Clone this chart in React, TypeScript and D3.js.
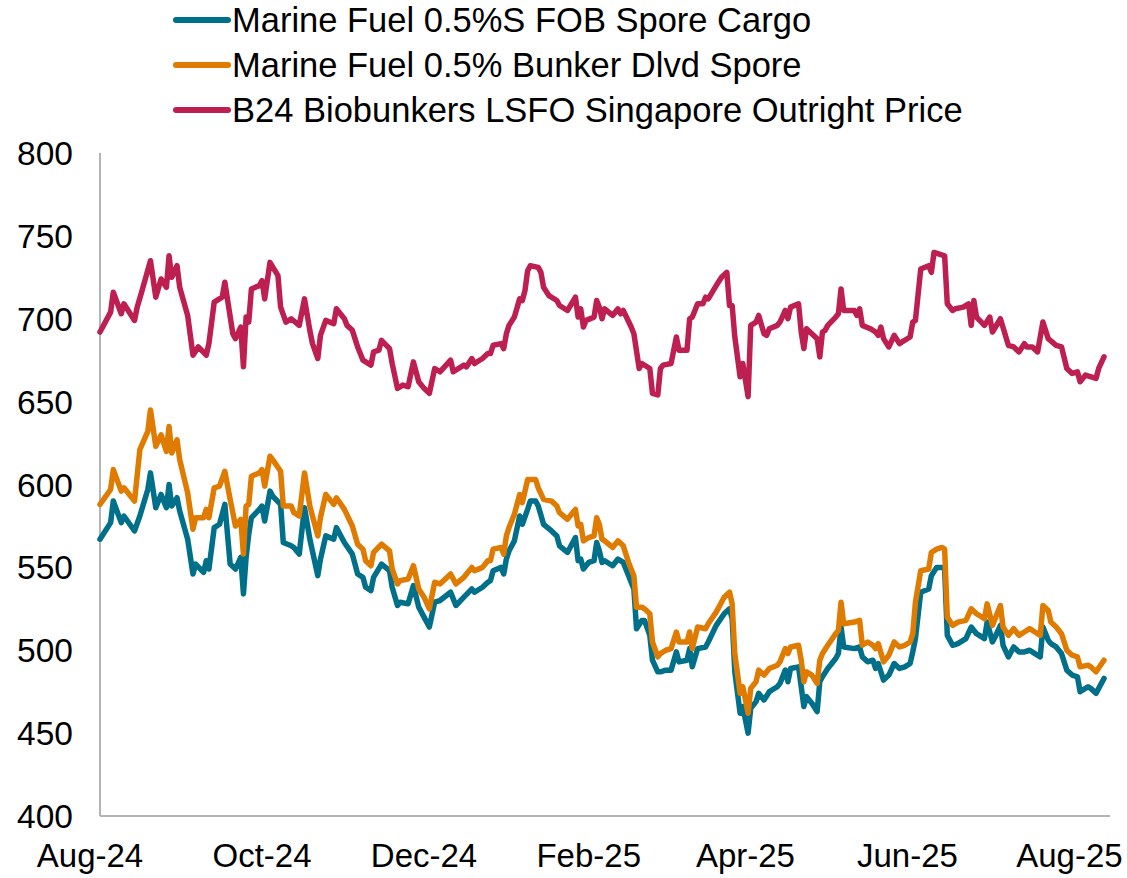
import React from 'react';
import * as d3 from 'd3';

// B24 biobunker price (purple)
const bioDates = [
  '2024-08-01', '2024-08-05', '2024-08-06', '2024-08-09', '2024-08-10', '2024-08-14', '2024-08-15', '2024-08-17',
  '2024-08-20', '2024-08-22', '2024-08-24', '2024-08-26', '2024-08-27', '2024-08-28', '2024-08-30', '2024-08-31',
  '2024-09-03', '2024-09-05', '2024-09-07', '2024-09-10', '2024-09-11', '2024-09-13', '2024-09-16', '2024-09-17',
  '2024-09-20', '2024-09-21', '2024-09-23', '2024-09-24', '2024-09-25', '2024-09-26', '2024-09-27', '2024-09-30',
  '2024-10-01', '2024-10-02', '2024-10-04', '2024-10-07', '2024-10-08', '2024-10-10', '2024-10-12', '2024-10-15',
  '2024-10-17', '2024-10-19', '2024-10-20', '2024-10-22', '2024-10-23', '2024-10-25', '2024-10-28', '2024-10-29',
  '2024-11-01', '2024-11-02', '2024-11-04', '2024-11-06', '2024-11-07', '2024-11-08', '2024-11-11', '2024-11-12',
  '2024-11-14', '2024-11-15', '2024-11-18', '2024-11-19', '2024-11-21', '2024-11-23', '2024-11-25', '2024-11-27',
  '2024-11-29', '2024-12-01', '2024-12-03', '2024-12-05', '2024-12-07', '2024-12-11', '2024-12-12', '2024-12-16',
  '2024-12-17', '2024-12-19', '2024-12-20', '2024-12-23', '2024-12-25', '2024-12-26', '2024-12-27', '2024-12-30',
  '2024-12-31', '2025-01-01', '2025-01-02', '2025-01-04', '2025-01-06', '2025-01-07', '2025-01-08', '2025-01-09',
  '2025-01-10', '2025-01-13', '2025-01-14', '2025-01-15', '2025-01-17', '2025-01-20', '2025-01-21', '2025-01-24',
  '2025-01-27', '2025-01-28', '2025-01-29', '2025-01-30', '2025-01-31', '2025-02-03', '2025-02-04', '2025-02-05',
  '2025-02-06', '2025-02-07', '2025-02-10', '2025-02-12', '2025-02-13', '2025-02-14', '2025-02-17', '2025-02-18',
  '2025-02-20', '2025-02-21', '2025-02-24', '2025-02-25', '2025-02-27', '2025-02-28', '2025-03-01', '2025-03-04',
  '2025-03-06', '2025-03-07', '2025-03-10', '2025-03-11', '2025-03-12', '2025-03-14', '2025-03-16', '2025-03-17',
  '2025-03-18', '2025-03-21', '2025-03-23', '2025-03-25', '2025-03-26', '2025-03-27', '2025-03-28', '2025-03-30',
  '2025-03-31', '2025-04-02', '2025-04-03', '2025-04-05', '2025-04-06', '2025-04-08', '2025-04-09', '2025-04-10',
  '2025-04-13', '2025-04-14', '2025-04-16', '2025-04-17', '2025-04-18', '2025-04-21', '2025-04-22', '2025-04-23',
  '2025-04-24', '2025-04-26', '2025-04-28', '2025-04-29', '2025-04-30', '2025-05-01', '2025-05-02', '2025-05-05',
  '2025-05-06', '2025-05-07', '2025-05-08', '2025-05-12', '2025-05-13', '2025-05-14', '2025-05-15', '2025-05-18',
  '2025-05-20', '2025-05-21', '2025-05-22', '2025-05-23', '2025-05-25', '2025-05-27', '2025-05-29', '2025-05-30',
  '2025-06-02', '2025-06-03', '2025-06-04', '2025-06-06', '2025-06-09', '2025-06-10', '2025-06-11', '2025-06-13',
  '2025-06-15', '2025-06-16', '2025-06-18', '2025-06-19', '2025-06-22', '2025-06-24', '2025-06-25', '2025-06-26',
  '2025-06-27', '2025-06-30', '2025-07-02', '2025-07-03', '2025-07-06', '2025-07-09', '2025-07-11', '2025-07-13',
  '2025-07-15', '2025-07-16', '2025-07-18', '2025-07-20', '2025-07-22', '2025-07-24', '2025-07-27', '2025-07-29',
  '2025-07-31', '2025-08-02', '2025-08-04', '2025-08-05', '2025-08-07', '2025-08-11', '2025-08-12', '2025-08-14',
];
const bioPrices = [
  692, 704, 716, 703, 709, 699, 707, 718,
  735, 713, 724, 719, 738, 725, 732, 719,
  702, 678, 683, 678, 685, 710, 713, 722,
  691, 688, 695, 671, 701, 698, 718, 720,
  723, 712, 734, 726, 707, 698, 700, 696,
  712, 693, 685, 676, 690, 699, 697, 706,
  700, 696, 693, 683, 679, 675, 672, 680,
  681, 687, 682, 673, 658, 660, 659, 674,
  662, 658, 655, 670, 668, 675, 668, 672,
  671, 676, 673, 676, 679, 679, 684, 685,
  682, 691, 696, 701, 712, 711, 717, 729,
  732, 731, 728, 719, 714, 711, 708, 705,
  713, 701, 706, 695, 699, 701, 711, 707,
  700, 706, 702, 706, 703, 705, 695, 691,
  670, 673, 670, 655, 654, 670, 672, 673,
  689, 681, 681, 700, 701, 709, 709, 713,
  712, 720, 725, 728, 708, 708, 689, 665,
  673, 653, 696, 698, 702, 691, 690, 694,
  696, 698, 705, 700, 707, 709, 692, 682,
  694, 691, 688, 677, 692, 693, 696, 701,
  703, 718, 705, 705, 702, 706, 696, 694,
  692, 690, 695, 688, 683, 690, 685, 686,
  689, 698, 699, 730, 732, 728, 740, 739,
  738, 709, 705, 706, 707, 709, 696, 711,
  701, 696, 701, 692, 700, 684, 683, 680,
  685, 683, 683, 680, 698, 688, 684, 683,
  670, 667, 668, 662, 666, 664, 670, 677,
];

// marine fuel cargo (teal) and delivered bunker (orange)
const fuelDates = [
  '2024-08-01', '2024-08-05', '2024-08-06', '2024-08-09', '2024-08-10', '2024-08-14', '2024-08-16', '2024-08-19',
  '2024-08-20', '2024-08-22', '2024-08-24', '2024-08-26', '2024-08-27', '2024-08-28', '2024-08-30', '2024-08-31',
  '2024-09-03', '2024-09-05', '2024-09-06', '2024-09-09', '2024-09-10', '2024-09-11', '2024-09-13', '2024-09-15',
  '2024-09-17', '2024-09-19', '2024-09-21', '2024-09-23', '2024-09-24', '2024-09-25', '2024-09-26', '2024-09-27',
  '2024-09-30', '2024-10-01', '2024-10-02', '2024-10-04', '2024-10-05', '2024-10-08', '2024-10-09', '2024-10-12',
  '2024-10-13', '2024-10-15', '2024-10-17', '2024-10-19', '2024-10-22', '2024-10-23', '2024-10-25', '2024-10-28',
  '2024-10-29', '2024-11-01', '2024-11-04', '2024-11-06', '2024-11-08', '2024-11-09', '2024-11-11', '2024-11-12',
  '2024-11-15', '2024-11-18', '2024-11-19', '2024-11-21', '2024-11-22', '2024-11-25', '2024-11-27', '2024-11-29',
  '2024-12-01', '2024-12-03', '2024-12-05', '2024-12-07', '2024-12-11', '2024-12-13', '2024-12-16', '2024-12-19',
  '2024-12-20', '2024-12-23', '2024-12-25', '2024-12-26', '2024-12-27', '2024-12-30', '2024-12-31', '2025-01-01',
  '2025-01-02', '2025-01-04', '2025-01-06', '2025-01-07', '2025-01-09', '2025-01-10', '2025-01-12', '2025-01-13',
  '2025-01-15', '2025-01-18', '2025-01-20', '2025-01-21', '2025-01-24', '2025-01-27', '2025-01-28', '2025-01-29',
  '2025-01-30', '2025-02-01', '2025-02-03', '2025-02-04', '2025-02-05', '2025-02-06', '2025-02-07', '2025-02-10',
  '2025-02-12', '2025-02-14', '2025-02-16', '2025-02-18', '2025-02-19', '2025-02-21', '2025-02-22', '2025-02-24',
  '2025-02-25', '2025-02-27', '2025-02-28', '2025-03-02', '2025-03-04', '2025-03-06', '2025-03-07', '2025-03-10',
  '2025-03-11', '2025-03-12', '2025-03-14', '2025-03-17', '2025-03-18', '2025-03-21', '2025-03-24', '2025-03-26',
  '2025-03-27', '2025-03-28', '2025-03-30', '2025-03-31', '2025-04-02', '2025-04-03', '2025-04-05', '2025-04-06',
  '2025-04-08', '2025-04-10', '2025-04-13', '2025-04-14', '2025-04-16', '2025-04-17', '2025-04-18', '2025-04-21',
  '2025-04-22', '2025-04-23', '2025-04-24', '2025-04-26', '2025-04-28', '2025-04-29', '2025-04-30', '2025-05-02',
  '2025-05-05', '2025-05-06', '2025-05-07', '2025-05-08', '2025-05-12', '2025-05-14', '2025-05-15', '2025-05-17',
  '2025-05-19', '2025-05-20', '2025-05-21', '2025-05-23', '2025-05-25', '2025-05-27', '2025-05-29', '2025-05-31',
  '2025-06-02', '2025-06-03', '2025-06-04', '2025-06-06', '2025-06-09', '2025-06-10', '2025-06-12', '2025-06-14',
  '2025-06-15', '2025-06-16', '2025-06-18', '2025-06-20', '2025-06-23', '2025-06-25', '2025-06-27', '2025-06-30',
  '2025-07-01', '2025-07-03', '2025-07-04', '2025-07-06', '2025-07-07', '2025-07-09', '2025-07-11', '2025-07-13',
  '2025-07-15', '2025-07-17', '2025-07-19', '2025-07-21', '2025-07-22', '2025-07-24', '2025-07-25', '2025-07-27',
  '2025-07-29', '2025-07-31', '2025-08-02', '2025-08-04', '2025-08-05', '2025-08-08', '2025-08-09', '2025-08-11',
  '2025-08-14',
];
const cargoPrices = [
  567, 577, 590, 577, 581, 572, 581, 597,
  607, 586, 594, 586, 600, 587, 592, 584,
  567, 546, 552, 547, 554, 549, 574, 576,
  588, 552, 549, 556, 534, 556, 570, 580,
  585, 587, 578, 596, 593, 588, 565, 563,
  562, 558, 586, 567, 545, 555, 569, 567,
  574, 565, 558, 546, 544, 538, 536, 544,
  552, 548, 538, 527, 529, 528, 539, 526,
  520, 514, 529, 530, 535, 527, 532, 537,
  535, 538, 541, 542, 548, 550, 546, 555,
  560, 566, 581, 576, 585, 590, 590, 587,
  576, 572, 569, 563, 559, 568, 554, 555,
  549, 553, 554, 565, 560, 553, 554, 551,
  555, 553, 545, 537, 513, 518, 518, 509,
  494, 487, 487, 488, 488, 499, 493, 494,
  501, 490, 501, 502, 505, 515, 522, 525,
  519, 487, 462, 466, 450, 465, 469, 474,
  470, 475, 478, 480, 488, 481, 489, 490,
  478, 466, 472, 468, 463, 481, 484, 489,
  495, 498, 514, 502, 501, 502, 496, 493,
  494, 489, 492, 482, 485, 492, 489, 490,
  492, 499, 507, 535, 537, 545, 550, 550,
  549, 509, 503, 504, 507, 514, 510, 507,
  517, 505, 508, 515, 503, 496, 502, 499,
  499, 500, 498, 496, 514, 506, 504, 502,
  498, 488, 485, 484, 475, 478, 477, 474,
  483,
];
const bunkerPrices = [
  588, 597, 609, 596, 598, 590, 621, 632,
  645, 623, 630, 620, 635, 619, 627, 615,
  595, 573, 580, 580, 585, 580, 598, 599,
  608, 591, 575, 579, 558, 587, 588, 605,
  607, 609, 599, 617, 615, 608, 587, 587,
  583, 581, 607, 587, 569, 580, 594, 588,
  592, 585, 575, 564, 561, 554, 551, 559,
  564, 560, 549, 540, 542, 543, 551, 537,
  532, 525, 541, 540, 546, 540, 544, 550,
  548, 550, 554, 554, 561, 562, 558, 569,
  574, 582, 594, 589, 603, 603, 603, 598,
  591, 590, 587, 583, 579, 585, 575, 576,
  566, 568, 569, 580, 576, 567, 566, 562,
  566, 563, 553, 545, 526, 526, 525, 522,
  505, 496, 498, 500, 501, 511, 505, 505,
  511, 501, 514, 513, 516, 523, 532, 535,
  528, 498, 474, 478, 462, 477, 481, 488,
  485, 489, 491, 493, 501, 498, 502, 503,
  494, 481, 487, 485, 480, 494, 498, 503,
  510, 512, 529, 516, 517, 518, 503, 505,
  503, 501, 504, 493, 497, 505, 502, 503,
  505, 510, 529, 548, 549, 559, 561, 562,
  561, 520, 515, 517, 518, 525, 522, 519,
  528, 515, 519, 527, 514, 509, 513, 509,
  511, 513, 511, 509, 527, 524, 517, 514,
  510, 500, 497, 496, 490, 491, 490, 487,
  494,
];

const seriesNames = [
  'Marine Fuel 0.5%S FOB Spore Cargo',
  'Marine Fuel 0.5% Bunker Dlvd Spore',
  'B24 Biobunkers LSFO Singapore Outright Price',
];
const seriesColors = ['#00708a', '#de7b00', '#bd1f51'];
const yTicks = [400, 450, 500, 550, 600, 650, 700, 750, 800];
const xTickDates = ['2024-08-01', '2024-10-01', '2024-12-01', '2025-02-01', '2025-04-01', '2025-06-01', '2025-08-01'];

const W = 1127;
const H = 878;
const FONT = '"Liberation Sans", Arial, sans-serif';

const parse = d3.timeParse('%Y-%m-%d');
const fmt = d3.timeFormat('%b-%y');

export default function App() {
  const x = d3.scaleTime()
    .domain([parse('2024-08-01')!, parse('2025-08-14')!])
    .range([100, 1104]);
  const y = d3.scaleLinear().domain([400, 800]).range([816, 153]);

  const line = d3.line<[Date, number]>()
    .x(d => x(d[0]))
    .y(d => y(d[1]));

  const fuel = fuelDates.map(parse) as Date[];
  const bio = bioDates.map(parse) as Date[];
  const series: [Date, number][][] = [
    fuel.map((d, i) => [d, cargoPrices[i]]),
    fuel.map((d, i) => [d, bunkerPrices[i]]),
    bio.map((d, i) => [d, bioPrices[i]]),
  ];

  return (
    <div style={{ position: 'absolute', left: 0, top: 0 }}>
      <svg width={W} height={H} style={{ display: 'block', background: '#fff' }} fontFamily={FONT}>
        {/* legend */}
        {seriesNames.map((name, i) => (
          <g key={name} transform={`translate(0, ${20 + i * 45})`}>
            <line x1={176} x2={228} y1={0} y2={0} stroke={seriesColors[i]} strokeWidth={6} strokeLinecap="round" />
            <text x={232} y={12} fontSize={34.5} fill="#000">{name}</text>
          </g>
        ))}

        {/* y axis */}
        <line x1={100} x2={100} y1={y(800)} y2={y(400)} stroke="#b4b4b4" strokeWidth={2} />
        {yTicks.map(t => (
          <text key={t} x={73} y={y(t) + 12} textAnchor="end" fontSize={33.5} fill="#000">{t}</text>
        ))}

        {/* x axis */}
        <line x1={100} x2={1110} y1={y(400)} y2={y(400)} stroke="#b4b4b4" strokeWidth={2} />
        {xTickDates.map((s, i) => {
          const d = parse(s)!;
          return (
            <text key={s} x={x(d) - (i === 0 ? 10 : 0)} y={867} textAnchor="middle" fontSize={33} fill="#000">{fmt(d)}</text>
          );
        })}

        {/* lines */}
        {series.map((pts, i) => (
          <path key={i} d={line(pts) || ''} fill="none" stroke={seriesColors[i]} strokeWidth={5.5} strokeLinejoin="round" strokeLinecap="round" />
        ))}
      </svg>
    </div>
  );
}
